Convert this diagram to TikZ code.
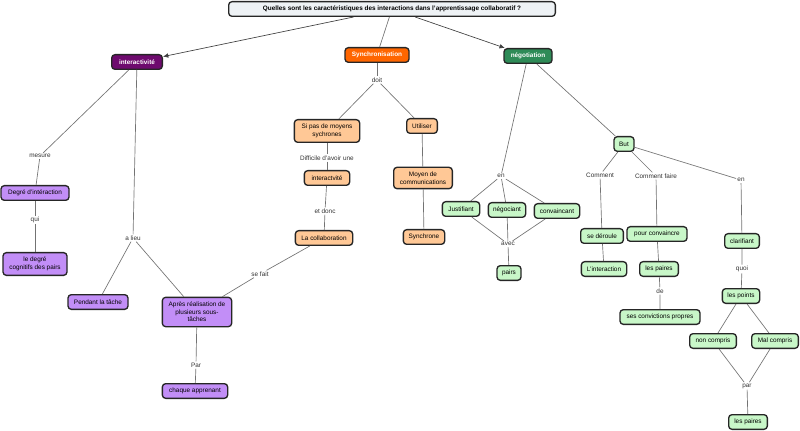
\documentclass[tikz,border=0pt]{standalone}
\usepackage{fontspec}
\setmainfont{Liberation Sans}
\usetikzlibrary{arrows.meta}
\definecolor{violetfonce}{HTML}{6E0A6E}
\definecolor{orangevif}{HTML}{FF6600}
\definecolor{vertfonce}{HTML}{2E8B57}
\definecolor{lavande}{HTML}{C28EF7}
\definecolor{peche}{HTML}{FFC896}
\definecolor{vertpale}{HTML}{C8F7C8}
\definecolor{gristitre}{HTML}{EEF2F5}

\begin{document}
\begin{tikzpicture}[
	x=0.75pt, y=-0.75pt,
	font=\fontsize{4.8}{5.6}\selectfont,
	concept/.style={draw=black!85,line width=1pt,rounded corners=2.5pt,align=center,inner sep=2pt,minimum height=11pt},
	titre/.style={concept,fill=gristitre,font=\fontsize{4.8}{5.6}\selectfont\bfseries},
	racine/.style={concept,text=white,font=\fontsize{4.8}{5.6}\selectfont\bfseries},
	inter/.style={concept,fill=lavande},
	synch/.style={concept,fill=peche},
	nego/.style={concept,fill=vertpale},
	lien/.style={fill=white,inner sep=0.8pt,text=black!80},
	trait/.style={draw=black!55,line width=0.5pt},
	fleche/.style={trait,-{Latex[length=4pt,width=3.5pt]},draw=black!75}
	]
	\useasboundingbox (0,0) rectangle (800,431);
	% concepts principaux
	\node [titre,minimum width=245pt] (q) at (392,9) {Quelles sont les caractéristiques des interactions dans l'apprentissage collaboratif ?};
	\node [racine,fill=violetfonce,minimum width=38pt] (inter) at (137,62) {interactivité};
	\node [racine,fill=orangevif,minimum width=48pt] (synch) at (377,55) {Synchronisation};
	\node [racine,fill=vertfonce,minimum width=36pt] (nego) at (528,56) {négotiation};
	% branche interactivite
	\node [inter,minimum width=51pt] (degre) at (35,193) {Degré d'intéraction};
	\node [inter,minimum width=48pt,minimum height=17pt] (cognitif) at (35,264) {le degré\\cognitifs des pairs};
	\node [inter,minimum width=45pt] (pendant) at (98,302) {Pendant la tâche};
	\node [inter,minimum width=52pt,minimum height=22pt] (apres) at (197,312) {Après réalisation de\\plusieurs sous-\\tâches};
	\node [inter,minimum width=49pt] (chaque) at (195,391) {chaque apprenant};
	% branche synchronisation
	\node [synch,minimum width=49pt,minimum height=17pt] (sipas) at (327,131) {Si pas de moyens\\sychrones};
	\node [synch,minimum width=34pt] (interact) at (327,178) {interactvité};
	\node [synch,minimum width=43pt] (collab) at (324,238) {La collaboration};
	\node [synch,minimum width=23pt] (utiliser) at (422,126) {Utiliser};
	\node [synch,minimum width=44pt,minimum height=16pt] (moyen) at (423,178) {Moyen de\\communications};
	\node [synch,minimum width=31pt] (synchrone) at (424,237) {Synchrone};
	% branche negotiation
	\node [nego,minimum width=28pt] (justif) at (461,209) {Justifiant};
	\node [nego,minimum width=28pt] (negoc) at (507,210) {négociant};
	\node [nego,minimum width=34pt] (convainc) at (557,211) {convaincant};
	\node [nego,minimum width=18pt] (pairs) at (509,273) {pairs};
	\node [nego,minimum width=15pt] (but) at (624,144) {But};
	\node [nego,minimum width=32pt] (deroule) at (602,236) {se déroule};
	\node [nego,minimum width=34pt] (linter) at (604,269) {L'interaction};
	\node [nego,minimum width=45pt] (pourconv) at (657,234) {pour convaincre};
	\node [nego,minimum width=29pt] (paires) at (659,269) {les paires};
	\node [nego,minimum width=60pt] (convictions) at (660,317) {ses convictions propres};
	\node [nego,minimum width=26pt] (clarif) at (742,241) {clarifiant};
	\node [nego,minimum width=28pt] (points) at (741,296) {les points};
	\node [nego,minimum width=35pt] (noncomp) at (713,341) {non compris};
	\node [nego,minimum width=35pt] (malcomp) at (775,341) {Mal compris};
	\node [nego,minimum width=29pt] (lespaires) at (748,422) {les paires};
	% mots de liaison
	\node [lien] (doit) at (377,80) {doit};
	\node [lien] (mesure) at (40,156) {mesure};
	\node [lien] (qui) at (35,220) {qui};
	\node [lien] (alieu) at (133,238) {a lieu};
	\node [lien] (par1) at (196,365) {Par};
	\node [lien] (difficile) at (327,158) {Difficile d'avoir une};
	\node [lien] (etdonc) at (325,211) {et donc};
	\node [lien] (sefait) at (260,274) {se fait};
	\node [lien] (en1) at (501,176) {en};
	\node [lien] (avec) at (508,244) {avec};
	\node [lien] (comment) at (600,175) {Comment};
	\node [lien] (commentf) at (656,176) {Comment faire};
	\node [lien] (en2) at (741,180) {en};
	\node [lien] (de) at (660,291) {de};
	\node [lien] (quoi) at (742,269) {quoi};
	\node [lien] (par2) at (747,386) {par};
	% connecteurs
	\draw [fleche] (q) -- (inter);
	\draw [fleche] (q) -- (nego);
	\draw [trait] (q) -- (synch);
	\draw [trait] (synch) -- (doit);
	\draw [trait] (doit) -- (sipas);
	\draw [trait] (doit) -- (utiliser);
	\draw [trait] (sipas) -- (difficile) -- (interact);
	\draw [trait] (interact) -- (etdonc) -- (collab);
	\draw [trait] (collab) -- (sefait) -- (apres);
	\draw [trait] (utiliser) -- (moyen) -- (synchrone);
	\draw [trait] (inter) -- (mesure) -- (degre);
	\draw [trait] (degre) -- (qui) -- (cognitif);
	\draw [trait] (inter) -- (alieu);
	\draw [trait] (alieu) -- (pendant);
	\draw [trait] (alieu) -- (apres);
	\draw [trait] (apres) -- (par1) -- (chaque);
	\draw [trait] (nego) -- (en1);
	\draw [trait] (en1) -- (justif);
	\draw [trait] (en1) -- (negoc);
	\draw [trait] (en1) -- (convainc);
	\draw [trait] (justif) -- (avec);
	\draw [trait] (negoc) -- (avec);
	\draw [trait] (convainc) -- (avec);
	\draw [trait] (avec) -- (pairs);
	\draw [trait] (nego) -- (but);
	\draw [trait] (but) -- (comment) -- (deroule) -- (linter);
	\draw [trait] (but) -- (commentf) -- (pourconv) -- (paires);
	\draw [trait] (paires) -- (de) -- (convictions);
	\draw [trait] (but) -- (en2) -- (clarif);
	\draw [trait] (clarif) -- (quoi) -- (points);
	\draw [trait] (points) -- (noncomp);
	\draw [trait] (points) -- (malcomp);
	\draw [trait] (noncomp) -- (par2);
	\draw [trait] (malcomp) -- (par2);
	\draw [trait] (par2) -- (lespaires);
\end{tikzpicture}
\end{document}
